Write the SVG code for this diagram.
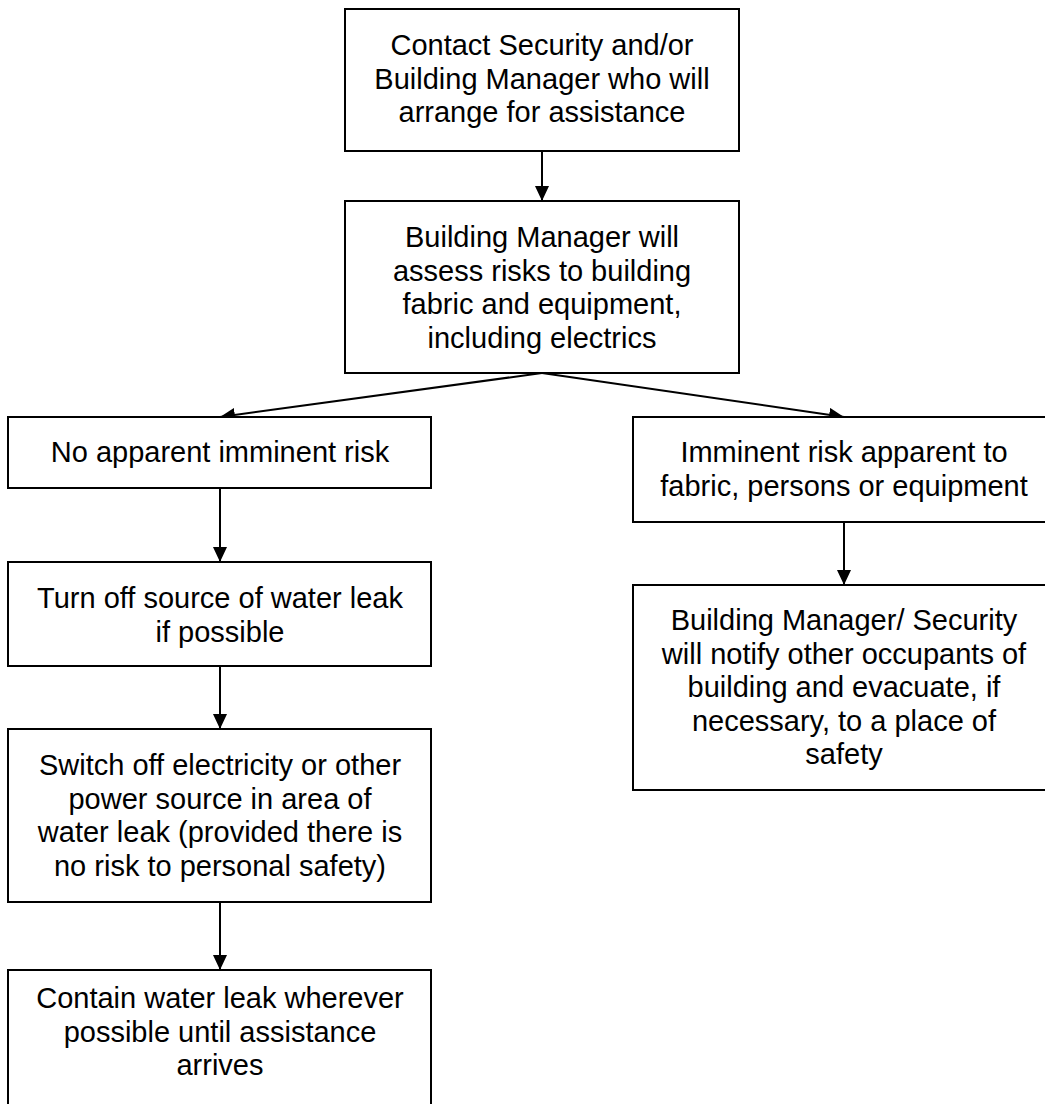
<svg xmlns="http://www.w3.org/2000/svg" width="1045" height="1104" viewBox="0 0 1045 1104">
<defs>
<style>
.box{fill:#fff;stroke:#000;stroke-width:2}
.lbl{font-family:"Liberation Sans",Arial,sans-serif;font-size:29px;fill:#000;text-anchor:middle}
.con{fill:none;stroke:#000;stroke-width:2}
</style>
<marker id="ah" markerUnits="userSpaceOnUse" markerWidth="16" markerHeight="14" refX="15" refY="7" orient="auto">
<path d="M0,0 L15,7 L0,14 z" fill="#000"/>
</marker>
</defs>
<rect width="1045" height="1104" fill="#fff"/>
<g id="connectors">
<line class="con" x1="542" y1="151" x2="542" y2="201" marker-end="url(#ah)"/>
<line class="con" x1="542" y1="373" x2="220" y2="417" marker-end="url(#ah)"/>
<line class="con" x1="542" y1="373" x2="844" y2="417" marker-end="url(#ah)"/>
<line class="con" x1="220" y1="488" x2="220" y2="562" marker-end="url(#ah)"/>
<line class="con" x1="220" y1="666" x2="220" y2="729" marker-end="url(#ah)"/>
<line class="con" x1="220" y1="902" x2="220" y2="970" marker-end="url(#ah)"/>
<line class="con" x1="844" y1="522" x2="844" y2="585" marker-end="url(#ah)"/>
</g>
<g id="n1">
<rect class="box" x="345" y="9" width="394" height="142"/>
<text class="lbl" x="542" y="55">Contact Security and/or</text>
<text class="lbl" x="542" y="88.5">Building Manager who will</text>
<text class="lbl" x="542" y="122">arrange for assistance</text>
</g>
<g id="n2">
<rect class="box" x="345" y="201" width="394" height="172"/>
<text class="lbl" x="542" y="247">Building Manager will</text>
<text class="lbl" x="542" y="280.5">assess risks to building</text>
<text class="lbl" x="542" y="314">fabric and equipment,</text>
<text class="lbl" x="542" y="347.5">including electrics</text>
</g>
<g id="n3">
<rect class="box" x="8" y="417" width="423" height="71"/>
<text class="lbl" x="220" y="462">No apparent imminent risk</text>
</g>
<g id="n4">
<rect class="box" x="633" y="417" width="422" height="105"/>
<text class="lbl" x="844" y="462">Imminent risk apparent to</text>
<text class="lbl" x="844" y="495.5">fabric, persons or equipment</text>
</g>
<g id="n5">
<rect class="box" x="8" y="562" width="423" height="104"/>
<text class="lbl" x="220" y="608">Turn off source of water leak</text>
<text class="lbl" x="220" y="641.5">if possible</text>
</g>
<g id="n6">
<rect class="box" x="633" y="585" width="422" height="205"/>
<text class="lbl" x="844" y="630">Building Manager/ Security</text>
<text class="lbl" x="844" y="663.5">will notify other occupants of</text>
<text class="lbl" x="844" y="697">building and evacuate, if</text>
<text class="lbl" x="844" y="730.5">necessary, to a place of</text>
<text class="lbl" x="844" y="764">safety</text>
</g>
<g id="n7">
<rect class="box" x="8" y="729" width="423" height="173"/>
<text class="lbl" x="220" y="775">Switch off electricity or other</text>
<text class="lbl" x="220" y="808.5">power source in area of</text>
<text class="lbl" x="220" y="842">water leak (provided there is</text>
<text class="lbl" x="220" y="875.5">no risk to personal safety)</text>
</g>
<g id="n8">
<rect class="box" x="8" y="970" width="423" height="145"/>
<text class="lbl" x="220" y="1008">Contain water leak wherever</text>
<text class="lbl" x="220" y="1041.5">possible until assistance</text>
<text class="lbl" x="220" y="1075">arrives</text>
</g>
</svg>
